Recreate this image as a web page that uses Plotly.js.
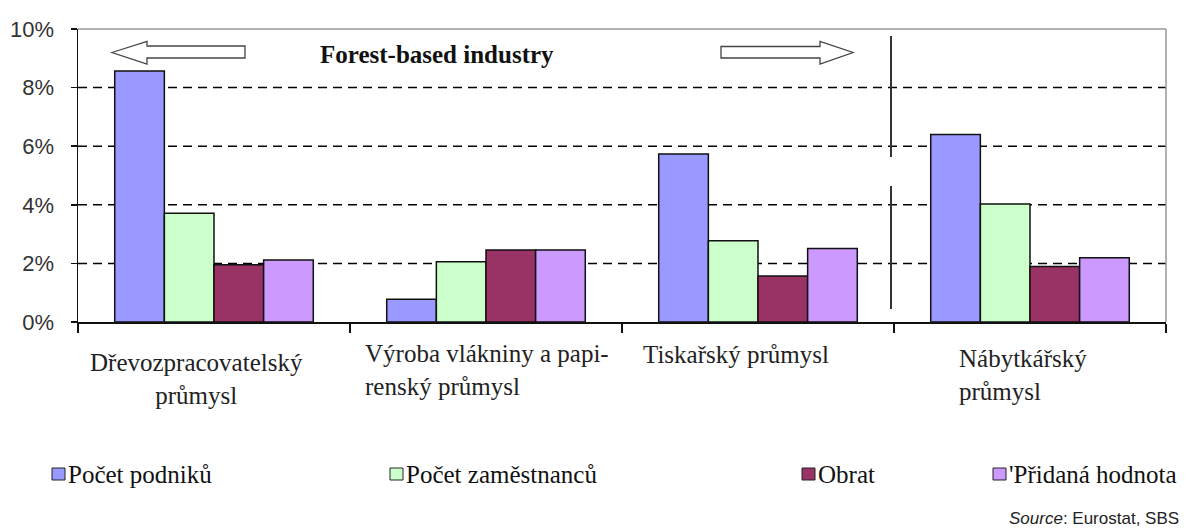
<!DOCTYPE html>
<html>
<head>
<meta charset="utf-8">
<script src="https://cdn.plot.ly/plotly-3.0.1.min.js"></script>
<style>html,body{margin:0;padding:0;background:#fff;}#chart{width:1189px;height:531px;}</style>
</head>
<body>
<div id="chart"></div>
<script>
// ---- data ----
const categories = ["Dřevozpracovatelský<br>průmysl", "Výroba vlákniny a papi-<br>renský průmysl", "Tiskařský průmysl", "Nábytkářský<br>průmysl"];
const seriesNames = ["Počet podniků", "Počet zaměstnanců", "Obrat", "'Přidaná hodnota"];
const pocetPodniku = [8.57, 0.78, 5.73, 6.40];
const pocetZamestnancu = [3.71, 2.06, 2.77, 4.03];
const obrat = [1.95, 2.46, 1.57, 1.89];
const pridanaHodnota = [2.12, 2.46, 2.51, 2.19];
const yTickVals = [0, 2, 4, 6, 8, 10];
const yTickText = ["0%", "2%", "4%", "6%", "8%", "10%"];
const gridVals = [2, 4, 6, 8];
const chartTitle = "Forest-based industry";
const sourceText = "<i>Source</i>: Eurostat, SBS";

const colors = ["#9999FF", "#CCFFCC", "#993366", "#CC99FF"];
const allSeries = [pocetPodniku, pocetZamestnancu, obrat, pridanaHodnota];

// pixel helpers (plot area: x 78..1166, y 29..322)
const L = 78, R = 1166, T = 29, B = 322;
const px = x => (x - L) / (R - L);
const py = y => (B - y) / (B - T);

const traces = allSeries.map((vals, i) => ({
  type: "bar",
  name: seriesNames[i],
  x: categories,
  y: vals,
  marker: {color: colors[i], line: {color: "#111", width: 1.5}},
  showlegend: false,
  hoverinfo: "skip"
}));

const shapes = [];
// dashed gridlines
gridVals.forEach(v => shapes.push({type: "line", xref: "paper", yref: "y", x0: 0, x1: 1, y0: v, y1: v,
  line: {color: "#000", width: 1.5, dash: "9px,6px"}, layer: "below"}));
// top + right gray border
shapes.push({type: "line", xref: "paper", yref: "paper", x0: 0, x1: 1, y0: 1, y1: 1, line: {color: "#999", width: 1.5}});
shapes.push({type: "line", xref: "paper", yref: "paper", x0: 1, x1: 1, y0: 0, y1: 1, line: {color: "#999", width: 1.5}});
// separator line (two pieces)
shapes.push({type: "line", xref: "paper", yref: "paper", x0: px(891), x1: px(891), y0: py(36), y1: py(157), line: {color: "#333", width: 2}});
shapes.push({type: "line", xref: "paper", yref: "paper", x0: px(891), x1: px(891), y0: py(186), y1: py(309), line: {color: "#333", width: 2}});
// arrows
function paperPath(pts) {
  return "M " + pts.map(p => px(p[0]).toFixed(5) + "," + py(p[1]).toFixed(5)).join(" L ") + " Z";
}
const leftArrow = [[112, 52.5], [147, 41.5], [147, 46], [245, 46], [245, 58], [147, 58], [147, 64]];
const rightArrow = [[721, 46.5], [820, 46.5], [820, 41.5], [853, 52.5], [820, 64], [820, 58], [721, 58]];
[leftArrow, rightArrow].forEach(a => shapes.push({type: "path", xref: "paper", yref: "paper", path: paperPath(a),
  fillcolor: "#fff", line: {color: "#444", width: 1.3}}));

// legend squares
const legendX = [52, 390, 802, 993];
const legendY = 474;
legendX.forEach((x, i) => shapes.push({type: "rect", xref: "paper", yref: "paper",
  x0: px(x), x1: px(x + 13), y0: py(legendY - 6), y1: py(legendY + 6),
  fillcolor: colors[i], line: {color: "#222", width: 1}}));

const serif = "'Liberation Serif', 'Times New Roman', serif";
const annotations = [];
// title
annotations.push({text: "<b>" + chartTitle + "</b>", xref: "paper", yref: "paper", x: px(437), y: py(54),
  xanchor: "center", yanchor: "middle", showarrow: false, font: {family: serif, size: 25, color: "#111"}});
// category labels
const labelPos = [
  {x: 196, y: 379, anchor: "center", align: "center"},
  {x: 363, y: 370, anchor: "left", align: "left"},
  {x: 641, y: 355, anchor: "left", align: "left"},
  {x: 957, y: 375, anchor: "left", align: "left"}
];
categories.forEach((c, i) => annotations.push({text: c, xref: "paper", yref: "paper",
  x: px(labelPos[i].x), y: py(labelPos[i].y), xanchor: labelPos[i].anchor, yanchor: "middle",
  align: labelPos[i].align, showarrow: false, font: {family: serif, size: 25, color: "#222"}}));
// legend texts
seriesNames.forEach((n, i) => annotations.push({text: n, xref: "paper", yref: "paper",
  x: px(legendX[i] + 14), y: py(legendY), xanchor: "left", yanchor: "middle", showarrow: false,
  font: {family: serif, size: 25, color: "#111"}}));
// source
annotations.push({text: sourceText, xref: "paper", yref: "paper", x: px(1181), y: py(518),
  xanchor: "right", yanchor: "middle", showarrow: false,
  font: {family: "'Liberation Sans Narrow', 'Arial Narrow', 'Liberation Sans', sans-serif", size: 17, color: "#222"}});

const layout = {
  width: 1189, height: 531,
  margin: {l: L, r: 1189 - R, t: T, b: 531 - B, pad: 0},
  paper_bgcolor: "#fff", plot_bgcolor: "#fff",
  barmode: "group", bargap: 0.27, bargroupgap: 0,
  showlegend: false,
  xaxis: {type: "category", range: [-0.5, 3.5], showticklabels: false, showgrid: false,
    showline: true, linecolor: "#111", linewidth: 1.5,
    ticks: "outside", tickson: "boundaries", ticklen: 9, tickcolor: "#111", tickwidth: 1.5},
  yaxis: {range: [0, 10], tickvals: yTickVals, ticktext: yTickText, showgrid: false, zeroline: false,
    showline: true, linecolor: "#111", linewidth: 1.5,
    ticks: "outside", ticklen: 6, tickcolor: "#111", tickwidth: 1.5, ticklabelstandoff: 12,
    tickfont: {family: "'Liberation Sans', Arial, sans-serif", size: 22, color: "#333"}},
  shapes: shapes,
  annotations: annotations
};

Plotly.newPlot("chart", traces, layout, {displayModeBar: false, staticPlot: true});
</script>
</body>
</html>
